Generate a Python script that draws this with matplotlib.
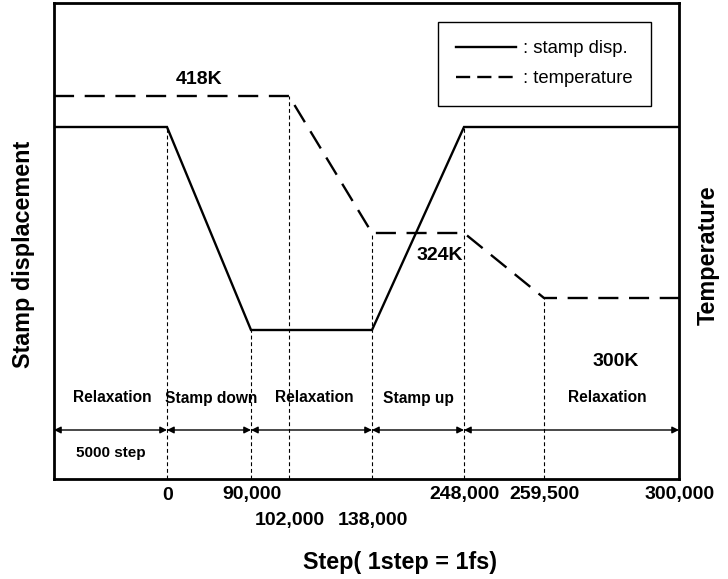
import matplotlib.pyplot as plt
from matplotlib.lines import Line2D

plt.rcParams['font.family'] = ['Liberation Sans', 'DejaVu Sans']

# milestone steps and where they sit on the (non-linear) schematic axis
steps = [0, 90000, 102000, 138000, 248000, 259500, 300000]
step_labels = ['0', '90,000', '102,000', '138,000', '248,000', '259,500', '300,000']
label_row = [0, 0, 1, 1, 0, 0, 0]
step_pos = [113, 197, 235, 318, 410, 490, 625]
x_start = 0

# stamp displacement profile (schematic levels)
disp_x = [x_start, 113, 197, 318, 410, 625]
disp_y = [352, 352, 149, 149, 352, 352]

# temperature profile (schematic levels)
temp_x = [x_start, 235, 318, 410, 490, 625]
temp_y = [383, 383, 246, 246, 181, 181]
temp_labels = ['418K', '324K', '300K']
temp_label_xy = [(145, 399), (386, 224), (562, 118)]

# phases between arrows
phase_names = ['Relaxation', 'Stamp down', 'Relaxation', 'Stamp up', 'Relaxation']
phase_bounds = [x_start, 113, 197, 318, 410, 625]
phase_text_x = [58, 157, 260, 364, 553]

fig = plt.figure(figsize=(7.28, 5.79), dpi=100)
ax = fig.add_axes([54 / 728, 100 / 579, 625 / 728, 476 / 579])
ax.set_xlim(0, 625)
ax.set_ylim(0, 476)
ax.set_xticks([])
ax.set_yticks([])
for s in ax.spines.values():
    s.set_linewidth(2)

ax.plot(disp_x, disp_y, color='black', lw=1.7, solid_joinstyle='miter')
ax.plot(temp_x, temp_y, color='black', lw=1.7, dashes=(8.5, 4.5))

# vertical guide lines from the profile down to the axis
guide_top = {113: 352, 197: 149, 235: 383, 318: 246, 410: 352, 490: 181}
for p in step_pos[:-1]:
    ax.plot([p, p], [0, guide_top[p]], color='black', lw=0.8, dashes=(3.5, 2.5))

# phase arrows
arrow_y = 49
for a, b in zip(phase_bounds[:-1], phase_bounds[1:]):
    ax.annotate('', xy=(b, arrow_y), xytext=(a, arrow_y),
                arrowprops=dict(arrowstyle='<|-|>', color='black', lw=1,
                                mutation_scale=10, shrinkA=0, shrinkB=0))
for name, x in zip(phase_names, phase_text_x):
    ax.text(x, 81, name, ha='center', va='center', fontsize=11.2, fontweight='bold')
ax.text(57, 26, '5000 step', ha='center', va='center', fontsize=11, fontweight='bold')

for t, (x, y) in zip(temp_labels, temp_label_xy):
    ax.text(x, y, t, ha='center', va='center', fontsize=14, fontweight='bold')

# step tick labels in two rows
for p, lab, row in zip(step_pos, step_labels, label_row):
    ax.text(p + 1, -16 - 25 * row, lab, ha='center', va='center', fontsize=14,
            fontweight='bold', clip_on=False)

fig.text(400 / 728, 1 - 562 / 579, 'Step( 1step = 1fs)', ha='center', va='center',
         fontsize=16.8, fontweight='bold')
fig.text(24 / 728, 1 - 254 / 579, 'Stamp displacement', ha='center', va='center',
         rotation=90, fontsize=16.8, fontweight='bold')
fig.text(708 / 728, 1 - 255 / 579, 'Temperature', ha='center', va='center',
         rotation=90, fontsize=16.8, fontweight='bold')

handles = [Line2D([], [], color='black', lw=1.7),
           Line2D([], [], color='black', lw=1.7, dashes=(6, 3))]
leg = ax.legend(handles, [': stamp disp.', ': temperature'], loc='upper right',
                bbox_to_anchor=(597 / 625, 457 / 476), fontsize=13.3,
                handlelength=3.2, handletextpad=0.4, borderpad=1.0,
                labelspacing=0.7, borderaxespad=0, fancybox=False,
                framealpha=1, edgecolor='black')
leg.get_frame().set_linewidth(1)

fig.savefig('out.png', dpi=100)
